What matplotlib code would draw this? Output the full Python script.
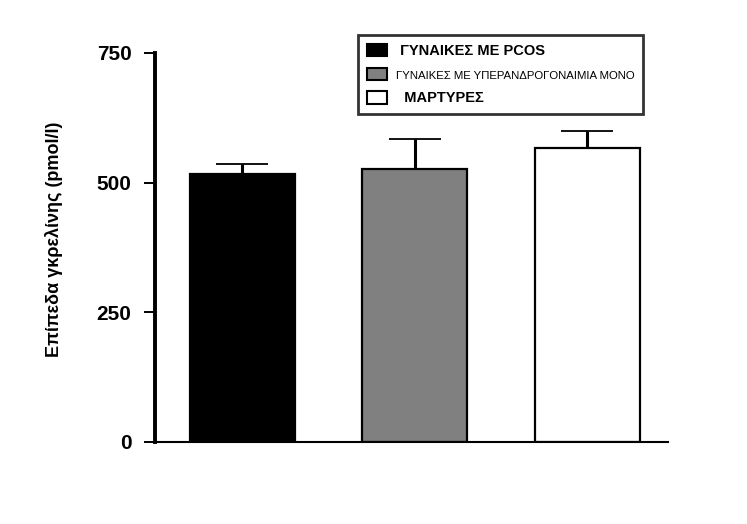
import matplotlib
matplotlib.use("Agg")
import matplotlib.pyplot as plt
from matplotlib.patches import Patch

groups = [" ΓΥΝΑΙΚΕΣ ΜΕ PCOS", "ΓΥΝΑΙΚΕΣ ΜΕ ΥΠΕΡΑΝΔΡΟΓΟΝΑΙΜΙΑ ΜΟΝΟ", "  ΜΑΡΤΥΡΕΣ"]
means = [517, 527, 567]
errors = [18, 58, 32]
colors = ["#000000", "#808080", "#ffffff"]
yticks = [0, 250, 500, 750]
ylabel = "Επίπεδα γκρελίνης (pmol/l)"

plt.rcParams['font.family'] = ['Liberation Sans', 'DejaVu Sans']

fig = plt.figure(figsize=(7.47, 5.24), dpi=100)
ax = fig.add_axes([0.2075, 0.1565, 0.687, 0.7425])

x = list(range(len(groups)))
ax.bar(x, means, width=0.61, color=colors, edgecolor="black", linewidth=1.6, zorder=2)
ax.errorbar(x, means, yerr=[[0] * len(errors), errors], fmt="none", ecolor="black",
            elinewidth=2.2, capsize=19, capthick=1.3, zorder=1)

ax.set_xlim(-0.505, 2.47)
ax.set_ylim(0, 750)
ax.set_yticks(yticks)
ax.set_yticklabels([str(t) for t in yticks], fontsize=15, fontweight="bold")
ax.set_xticks([])
ax.spines["top"].set_visible(False)
ax.spines["right"].set_visible(False)
ax.spines["left"].set_linewidth(2.8)
ax.spines["bottom"].set_linewidth(1.5)
ax.tick_params(axis="y", direction="out", length=8, width=1.4, pad=9)
ax.set_ylabel(ylabel, fontsize=13, fontweight="bold")
ax.yaxis.set_label_coords(-0.179, 0.522)

handles = [Patch(facecolor=c, edgecolor="black", linewidth=1.5) for c in colors]
leg = ax.legend(handles, groups, loc="upper left",
                bbox_to_anchor=(358 / 747, 1 - 35 / 524), bbox_transform=fig.transFigure,
                borderaxespad=0, frameon=True, fancybox=False, edgecolor="black",
                handlelength=1.5, handleheight=1.0, handletextpad=0.62,
                borderpad=0.62, labelspacing=0.74, fontsize=10)
leg.get_frame().set_linewidth(2.0)
texts = leg.get_texts()
texts[0].set_fontweight("bold")
texts[0].set_fontsize(10.5)
texts[1].set_fontsize(8.2)
texts[2].set_fontweight("bold")
texts[2].set_fontsize(10.5)

fig.savefig("out.png", dpi=100)
